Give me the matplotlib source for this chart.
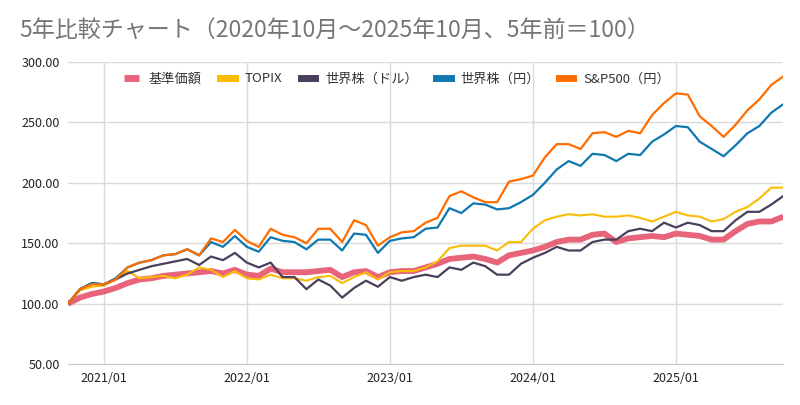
import matplotlib
matplotlib.use('Agg')
import matplotlib.pyplot as plt

plt.rcParams['font.family'] = ['Noto Sans CJK JP', 'DejaVu Sans']

title = '5年比較チャート（2020年10月～2025年10月、5年前＝100）'

# monthly, 2020/10 .. 2025/10 (61 points), 5 years ago = 100
kijun = [100, 105, 108, 110, 113, 117, 120, 121, 123, 124,
         125, 126, 127, 125, 128, 124, 123, 129, 126, 126,
         126, 127, 128, 122, 126, 127, 122, 126, 127, 127,
         130, 133, 137, 138, 139, 137, 134, 140, 142, 144,
         147, 151, 153, 153, 157, 158, 151, 154, 155, 156,
         155, 158, 157, 156, 153, 153, 160, 166, 168, 168, 172]
topix = [100, 111, 114, 115, 120, 127, 121, 122, 123, 121,
         124, 130, 128, 122, 127, 121, 120, 124, 121, 121,
         119, 122, 123, 117, 122, 126, 120, 126, 127, 127,
         130, 135, 146, 148, 148, 148, 144, 151, 151, 162,
         169, 172, 174, 173, 174, 172, 172, 173, 171, 168,
         172, 176, 173, 172, 168, 170, 176, 180, 187, 196, 196]
world_usd = [100, 112, 117, 116, 120, 125, 128, 131, 133, 135,
             137, 132, 139, 136, 142, 134, 130, 134, 122, 122,
             112, 120, 115, 105, 113, 119, 114, 122, 119, 122,
             124, 122, 130, 128, 134, 131, 124, 124, 133, 138,
             142, 147, 144, 144, 151, 153, 153, 160, 162, 160,
             167, 163, 167, 165, 160, 160, 169, 176, 176, 182, 189]
world_jpy = [100, 112, 117, 116, 121, 130, 134, 136, 140, 141,
             145, 140, 151, 147, 156, 147, 143, 155, 152, 151,
             145, 153, 153, 144, 158, 157, 142, 152, 154, 155,
             162, 163, 179, 175, 183, 182, 178, 179, 184, 190,
             200, 211, 218, 214, 224, 223, 218, 224, 223, 234,
             240, 247, 246, 234, 228, 222, 231, 241, 247, 258, 265]
sp500_jpy = [100, 112, 116, 116, 120, 130, 134, 136, 140, 141,
             145, 140, 154, 151, 161, 152, 147, 162, 157, 155,
             150, 162, 162, 151, 169, 165, 148, 155, 159, 160,
             167, 171, 189, 193, 188, 184, 184, 201, 203, 206,
             221, 232, 232, 228, 241, 242, 238, 243, 241, 256,
             266, 274, 273, 255, 247, 238, 248, 260, 269, 281, 288]

tick_pos = [3, 15, 27, 39, 51]
tick_labels = ['2021/01', '2022/01', '2023/01', '2024/01', '2025/01']
y_ticks = [50, 100, 150, 200, 250, 300]

months = list(range(len(kijun)))

fig = plt.figure(figsize=(8, 4.05), dpi=100)
ax = fig.add_axes([0.085, 0.101, 0.894, 0.746])

ax.plot(months, kijun, color='#e8647b', lw=4.2, label='基準価額', solid_capstyle='butt')
ax.plot(months, topix, color='#fbbc05', lw=1.5, label='TOPIX')
ax.plot(months, world_usd, color='#4a3f5c', lw=1.6, label='世界株（ドル）')
ax.plot(months, world_jpy, color='#0f78b0', lw=1.6, label='世界株（円）')
ax.plot(months, sp500_jpy, color='#ff6d00', lw=1.6, label='S&P500（円）')

ax.set_xlim(0, len(kijun) - 1)
ax.set_ylim(50, 300)
ax.set_yticks(y_ticks)
ax.set_yticklabels(['%.2f' % v for v in y_ticks])
ax.set_xticks(tick_pos)
ax.set_xticklabels(tick_labels)
ax.tick_params(length=0, labelsize=9, colors='#222222')
ax.tick_params(axis='y', pad=6)
ax.tick_params(axis='x', pad=6)
ax.grid(True, color='#dadada', lw=1)
ax.set_axisbelow(True)
for s in ['top', 'right', 'left']:
    ax.spines[s].set_visible(False)
ax.spines['bottom'].set_color('#cccccc')

leg = ax.legend(loc='upper center', bbox_to_anchor=(0.46, 1.005), ncol=5, frameon=False,
                fontsize=9.5, handlelength=1.1, handletextpad=0.75, columnspacing=1.4)
for h in leg.get_lines():
    h.set_linewidth(5)
for t in leg.get_texts():
    t.set_color('#333333')

fig.text(0.024, 0.925, title, fontsize=16.6, color='#757575', va='center', ha='left')

fig.savefig('out.png', dpi=100)
